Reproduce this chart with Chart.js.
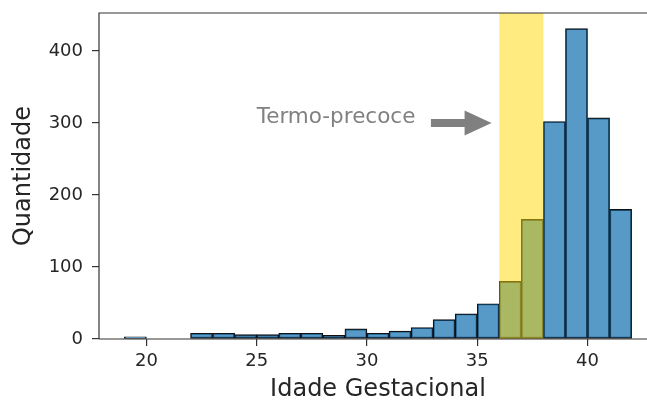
<!DOCTYPE html>
<html><head><meta charset="utf-8">
<script src="https://cdn.jsdelivr.net/npm/chart.js@4"></script>
<style>html,body{margin:0;padding:0;overflow:hidden;background:#fff;width:647px;height:404px}</style>
</head><body>
<canvas id="c" width="660" height="404" style="width:660px;height:404px;display:block"></canvas>
<script>
// ---- data ----
const binStarts = [19,20,21,22,23,24,25,26,27,28,29,30,31,32,33,34,35,36,37,38,39,40,41];
const counts    = [ 3, 0, 0, 8, 8, 6, 6, 8, 8, 5,14, 8,11,16,27,35,49,80,166,302,431,307,180];
const binWidth = 1;
const xTickValues = [20,25,30,35,40];
const yTickValues = [0,100,200,300,400];
const xLimits = [17.85, 43.15];
const yLimits = [0, 452.6];
const spanRange = [36,38];
const annotationText = 'Termo-precoce';
const annotationPos = [25,300];
const arrowFrom = [32.9,300];
const arrowTo = [35.65,300];
const xTitle = 'Idade Gestacional';
const yTitle = 'Quantidade';

const FONT = 'DejaVu Sans';
const barData = binStarts.map((s,i)=>({x:s+binWidth/2, y:counts[i]}));

const overlay = {
  id:'overlay',
  afterDatasetsDraw(chart){
    const {ctx, chartArea:a, scales:{x,y}} = chart;
    ctx.save();
    const x0 = x.getPixelForValue(spanRange[0]), x1 = x.getPixelForValue(spanRange[1]);
    ctx.fillStyle = 'rgba(255,215,0,0.5)';
    ctx.fillRect(x0, a.top, x1-x0, a.bottom-a.top);
    ctx.strokeStyle = '#333'; ctx.lineWidth = 1.2;
    ctx.beginPath();
    ctx.moveTo(a.left, a.bottom); ctx.lineTo(a.left, a.top); ctx.lineTo(a.right, a.top);
    ctx.moveTo(a.left, a.bottom); ctx.lineTo(a.right, a.bottom);
    ctx.stroke();
    ctx.fillStyle = '#808080';
    ctx.font = '21.5px "' + FONT + '"';
    ctx.textAlign = 'left'; ctx.textBaseline = 'alphabetic';
    ctx.fillText(annotationText, x.getPixelForValue(annotationPos[0]), y.getPixelForValue(annotationPos[1]));
    const ax0 = x.getPixelForValue(arrowFrom[0]), ay = y.getPixelForValue(arrowFrom[1]);
    const ax1 = x.getPixelForValue(arrowTo[0]);
    const headLen = 27, headW = 25, tailW = 8;
    ctx.beginPath();
    ctx.moveTo(ax0, ay - tailW/2);
    ctx.lineTo(ax1 - headLen, ay - tailW/2);
    ctx.lineTo(ax1 - headLen, ay - headW/2);
    ctx.lineTo(ax1, ay);
    ctx.lineTo(ax1 - headLen, ay + headW/2);
    ctx.lineTo(ax1 - headLen, ay + tailW/2);
    ctx.lineTo(ax0, ay + tailW/2);
    ctx.closePath();
    ctx.fill();
    ctx.restore();
  }
};

new Chart(document.getElementById('c'), {
  type:'bar',
  data:{datasets:[{
    data: barData,
    backgroundColor:'rgba(31,119,180,0.75)',
    borderColor:'#111',
    borderWidth:1.2,
    borderSkipped:false,
    barPercentage:1,
    categoryPercentage:1
  }]},
  options:{
    responsive:false, animation:false,
    layout:{padding:{top:13,right:3,left:0,bottom:0}},
    plugins:{legend:{display:false}, tooltip:{enabled:false}},
    scales:{
      x:{
        type:'linear', min:xLimits[0], max:xLimits[1], offset:false,
        grid:{display:true, offset:false, drawOnChartArea:false, drawTicks:true, tickLength:7, color:'#333', lineWidth:1.2},
        border:{display:false},
        afterBuildTicks: s => { s.ticks = xTickValues.map(v=>({value:v})); },
        ticks:{font:{family:FONT, size:18}, color:'#262626', padding:5, maxRotation:0, autoSkip:false},
        title:{display:true, text:xTitle, font:{family:FONT, size:24}, color:'#262626', padding:{top:0,bottom:0}},
        afterFit: s => { s.height = 65; s.paddingLeft = 0; s.paddingRight = 0; }
      },
      y:{
        type:'linear', min:yLimits[0], max:yLimits[1],
        grid:{display:true, drawOnChartArea:false, drawTicks:true, tickLength:7, color:'#333', lineWidth:1.2},
        border:{display:false},
        afterBuildTicks: s => { s.ticks = yTickValues.map(v=>({value:v})); },
        ticks:{font:{family:FONT, size:18}, color:'#262626', padding:9},
        title:{display:true, text:yTitle, font:{family:FONT, size:24}, color:'#262626', padding:{top:9,bottom:0}},
        afterFit: s => { s.width = 99; s.paddingTop = 0; s.paddingBottom = 0; }
      }
    }
  },
  plugins:[overlay]
});
</script>
</body></html>
